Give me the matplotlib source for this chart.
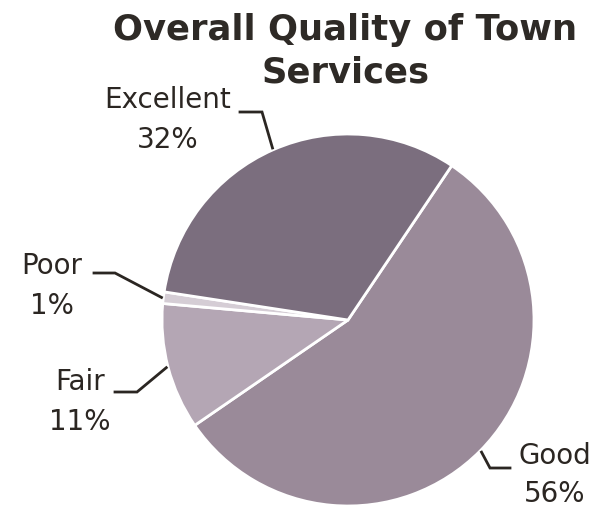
import numpy as np
import matplotlib
matplotlib.use("Agg")
import matplotlib.pyplot as plt

categories = ["Good", "Fair", "Poor", "Excellent"]
values = [56, 11, 1, 32]
colors = ["#9a8a99", "#b4a6b4", "#d5cdd5", "#7b6e7e"]
title = "Overall Quality of Town\nServices"

W, H = 609, 508
fig = plt.figure(figsize=(W / 100, H / 100), dpi=100)
ax = fig.add_axes([0, 0, 1, 1])
ax.set_xlim(0, W)
ax.set_ylim(0, H)
ax.set_aspect("equal")
ax.axis("off")

cx, cy, R = 348, H - 320, 186
wedges, _ = ax.pie(values, colors=colors, startangle=56.1, counterclock=False,
                   center=(cx, cy), radius=R, frame=True,
                   wedgeprops=dict(edgecolor="white", linewidth=2))
ax.set_xlim(0, W)
ax.set_ylim(0, H)
ax.axis("off")

txt_color = "#2b2622"
# layout: (elbow point, end point, text position) in pixel coords (y from top)
layout = {
    "Excellent": ((262, 112), (240, 112), (168, 120)),
    "Poor": ((115, 273), (94, 273), (52, 286)),
    "Fair": ((137, 392), (115, 392), (80, 402)),
    "Good": ((490, 468), (510, 468), (555, 475)),
}
for w, cat, v in zip(wedges, categories, values):
    mid = np.deg2rad((w.theta1 + w.theta2) / 2)
    sx = cx + R * 1.01 * np.cos(mid)
    sy = cy + R * 1.01 * np.sin(mid)
    (ex, ey), (tx, ty), (lx, ly) = layout[cat]
    ax.plot([sx, ex, tx], [sy, H - ey, H - ty], color="#2b2622", lw=2,
            solid_joinstyle="miter", clip_on=False)
    ax.text(lx, H - ly, f"{cat}\n{v}%", ha="center", va="center",
            fontsize=20, color=txt_color, family="DejaVu Sans",
            linespacing=1.5)

ax.text(345, H - 13, title, ha="center", va="top", fontsize=25.5,
        fontweight="bold", color="#2e2a26", family="DejaVu Sans",
        linespacing=1.3)

fig.savefig("out.png", dpi=100)
